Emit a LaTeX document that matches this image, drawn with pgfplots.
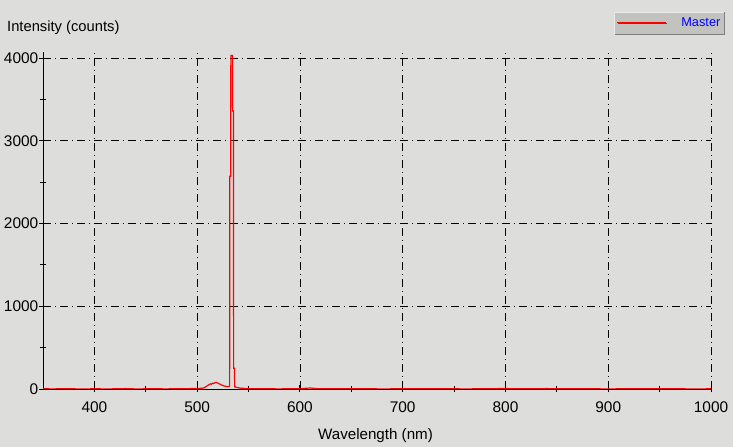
\documentclass[border=0pt]{standalone}
\usepackage{fontspec}
\setmainfont{Liberation Sans}
\usepackage{pgfplots}
\pgfplotsset{compat=1.18}
\definecolor{bg}{RGB}{221,222,219}
\definecolor{legfill}{RGB}{194,195,191}
\definecolor{legborder}{RGB}{128,128,128}
\definecolor{leglight}{RGB}{236,236,234}
\definecolor{specred}{RGB}{255,0,0}
\definecolor{legblue}{RGB}{0,0,255}
\begin{document}
\begin{tikzpicture}[x=1bp,y=1bp]
\fill[bg] (0,0) rectangle (733,447);
\begin{axis}[
  at={(43bp,58bp)}, anchor=south west,
  scale only axis, width=668bp, height=337bp,
  xmin=350, xmax=1000, ymin=0, ymax=4072.5,
  axis x line*=bottom, axis y line*=left,
  axis line style={black, line width=0.9bp, -},
  xtick={400,500,...,1000}, ytick={0,1000,...,4000},
  minor x tick num=1, minor y tick num=1,
  tick align=center, major tick length=7bp, minor tick length=6bp,
  every tick/.style={black, line width=0.9bp},
  grid=major,
  major grid style={black, line width=0.8bp, dash pattern=on 8bp off 4bp on 1bp off 4bp},
  /pgf/number format/assume math mode=true,
  /pgf/number format/1000 sep={},
  ticklabel style={font=\fontsize{15.5}{18}\selectfont},
  xticklabel style={anchor=base, inner sep=0pt, yshift=-20bp},
  yticklabel style={anchor=east, inner sep=0pt, xshift=-1bp},
  legend style={at={(axis description cs:1.021,1.1187)}, anchor=north east,
    fill=legfill, draw=none, name=leg,
    font=\fontsize{12.8}{14}\selectfont, text=legblue,
    inner xsep=2.5bp, inner ysep=4bp},
  legend cell align=left,
  legend image code/.code={\path (0bp,0bp) -- (49bp,0bp);},
  clip=true,
]
\addplot[specred, line width=1.2bp] coordinates {
(350,3) (360,1) (370,4) (380,2) (390,0) (400,3) (410,1) (420,2) (430,5) (440,1)
(450,2) (460,3) (470,1) (480,4) (490,3) (495,6) (500,5) (503,8) (505,10) (507,15)
(508,25) (509,32) (510,40) (511,48) (512,55) (513,62) (514,58) (515,70) (516,66)
(517,74) (518,80) (519,78) (520,72) (521,65) (522,60) (523,52) (524,48) (525,42)
(526,38) (527,34) (528,32) (529,30) (530,28) (531,30) (531.6,35)
(531.8,2570) (532.6,2570) (532.8,4030) (534.3,4030) (534.5,3360) (535.3,3360)
(535.5,250) (536.3,250) (536.5,25)
(538,22) (540,15) (542,10) (545,8) (548,6) (550,4) (555,3) (560,2) (570,3)
(580,1) (590,4) (600,3) (605,8) (610,12) (615,6) (620,3) (640,2) (660,4) (680,1)
(700,3) (720,2) (740,4) (760,1) (780,3) (800,6) (810,3) (820,2) (840,5) (860,2)
(880,3) (900,1) (920,3) (940,2) (960,4) (980,1) (1000,2)
};
\addlegendentry{\hspace{12bp}Master}
\end{axis}
\draw[leglight, line width=1bp] ([shift={(0.5,0.5)}]leg.south west) |- ([shift={(-0.5,-0.5)}]leg.north east);
\draw[legborder, line width=1bp] ([shift={(0.5,0.5)}]leg.south west) -| ([shift={(-0.5,-0.5)}]leg.north east);
\draw[specred, line width=1.2bp] ([xshift=3bp,yshift=1bp]leg.west) -- ++(49bp,0);
\node[anchor=base west, inner sep=0pt, font=\fontsize{14.8}{17}\selectfont] at (7,415.5) {Intensity (counts)};
\node[anchor=base, inner sep=0pt, font=\fontsize{15.2}{17}\selectfont] at (375.5,7) {Wavelength (nm)};
\pgfresetboundingbox
\path (0,0) rectangle (733,447);
\end{tikzpicture}
\end{document}
